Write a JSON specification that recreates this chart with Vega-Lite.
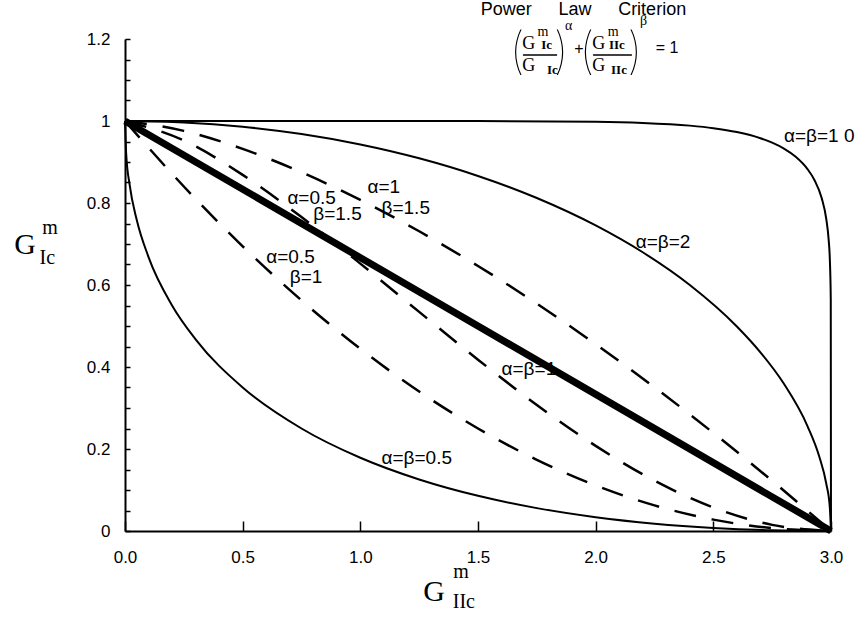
{
  "$schema": "https://vega.github.io/schema/vega-lite/v6.json",
  "autosize": {"type": "none"},
  "width": 706,
  "height": 492,
  "padding": {"left": 125, "top": 39, "right": 31, "bottom": 93},
  "background": "white",
  "config": {"view": {"stroke": null}},
  "datasets": {
    "curves": [
      {"curve": "a10", "x": 0, "y": 1},
      {"curve": "a10", "x": 0.5, "y": 1},
      {"curve": "a10", "x": 1, "y": 1},
      {"curve": "a10", "x": 1.5, "y": 0.9999},
      {"curve": "a10", "x": 2, "y": 0.99825},
      {"curve": "a10", "x": 2.2, "y": 0.99541},
      {"curve": "a10", "x": 2.4, "y": 0.98871},
      {"curve": "a10", "x": 2.5, "y": 0.98254},
      {"curve": "a10", "x": 2.6, "y": 0.97305},
      {"curve": "a10", "x": 2.7, "y": 0.95803},
      {"curve": "a10", "x": 2.75, "y": 0.94716},
      {"curve": "a10", "x": 2.8, "y": 0.93273},
      {"curve": "a10", "x": 2.85, "y": 0.91273},
      {"curve": "a10", "x": 2.9, "y": 0.88281},
      {"curve": "a10", "x": 2.93, "y": 0.85563},
      {"curve": "a10", "x": 2.96, "y": 0.81262},
      {"curve": "a10", "x": 2.98, "y": 0.7605},
      {"curve": "a10", "x": 2.99, "y": 0.71063},
      {"curve": "a10", "x": 2.995, "y": 0.66354},
      {"curve": "a10", "x": 2.999, "y": 0.56522},
      {"curve": "a10", "x": 3, "y": 0},
      {"curve": "a2", "x": 0, "y": 1},
      {"curve": "a2", "x": 0.25, "y": 0.99652},
      {"curve": "a2", "x": 0.5, "y": 0.98601},
      {"curve": "a2", "x": 0.75, "y": 0.96825},
      {"curve": "a2", "x": 1, "y": 0.94281},
      {"curve": "a2", "x": 1.25, "y": 0.90906},
      {"curve": "a2", "x": 1.5, "y": 0.86603},
      {"curve": "a2", "x": 1.75, "y": 0.81223},
      {"curve": "a2", "x": 2, "y": 0.74536},
      {"curve": "a2", "x": 2.2, "y": 0.67987},
      {"curve": "a2", "x": 2.4, "y": 0.6},
      {"curve": "a2", "x": 2.6, "y": 0.49889},
      {"curve": "a2", "x": 2.7, "y": 0.43589},
      {"curve": "a2", "x": 2.8, "y": 0.35901},
      {"curve": "a2", "x": 2.9, "y": 0.25604},
      {"curve": "a2", "x": 2.95, "y": 0.18182},
      {"curve": "a2", "x": 2.98, "y": 0.11528},
      {"curve": "a2", "x": 2.995, "y": 0.05771},
      {"curve": "a2", "x": 3, "y": 0},
      {"curve": "a1", "x": 0, "y": 1},
      {"curve": "a1", "x": 3, "y": 0},
      {"curve": "a05", "x": 0, "y": 1},
      {"curve": "a05", "x": 0.005, "y": 0.92002},
      {"curve": "a05", "x": 0.02, "y": 0.84337},
      {"curve": "a05", "x": 0.05, "y": 0.75847},
      {"curve": "a05", "x": 0.1, "y": 0.66819},
      {"curve": "a05", "x": 0.2, "y": 0.55027},
      {"curve": "a05", "x": 0.3, "y": 0.46754},
      {"curve": "a05", "x": 0.5, "y": 0.35017},
      {"curve": "a05", "x": 0.75, "y": 0.25},
      {"curve": "a05", "x": 1, "y": 0.17863},
      {"curve": "a05", "x": 1.25, "y": 0.12567},
      {"curve": "a05", "x": 1.5, "y": 0.08579},
      {"curve": "a05", "x": 1.75, "y": 0.05581},
      {"curve": "a05", "x": 2, "y": 0.03367},
      {"curve": "a05", "x": 2.25, "y": 0.01795},
      {"curve": "a05", "x": 2.5, "y": 0.00759},
      {"curve": "a05", "x": 2.75, "y": 0.00181},
      {"curve": "a05", "x": 3, "y": 0},
      {"curve": "a1b15", "x": 0, "y": 1},
      {"curve": "a1b15", "x": 0.25, "y": 0.97594},
      {"curve": "a1b15", "x": 0.5, "y": 0.93196},
      {"curve": "a1b15", "x": 0.75, "y": 0.875},
      {"curve": "a1b15", "x": 1, "y": 0.80755},
      {"curve": "a1b15", "x": 1.25, "y": 0.73104},
      {"curve": "a1b15", "x": 1.5, "y": 0.64645},
      {"curve": "a1b15", "x": 1.75, "y": 0.55447},
      {"curve": "a1b15", "x": 2, "y": 0.45567},
      {"curve": "a1b15", "x": 2.25, "y": 0.35048},
      {"curve": "a1b15", "x": 2.5, "y": 0.23927},
      {"curve": "a1b15", "x": 2.75, "y": 0.12236},
      {"curve": "a1b15", "x": 3, "y": 0},
      {"curve": "a05b15", "x": 0, "y": 1},
      {"curve": "a05b15", "x": 0.25, "y": 0.95246},
      {"curve": "a05b15", "x": 0.5, "y": 0.86855},
      {"curve": "a05b15", "x": 0.75, "y": 0.76563},
      {"curve": "a05b15", "x": 1, "y": 0.65214},
      {"curve": "a05b15", "x": 1.25, "y": 0.53442},
      {"curve": "a05b15", "x": 1.5, "y": 0.4179},
      {"curve": "a05b15", "x": 1.75, "y": 0.30744},
      {"curve": "a05b15", "x": 2, "y": 0.20764},
      {"curve": "a05b15", "x": 2.25, "y": 0.12284},
      {"curve": "a05b15", "x": 2.5, "y": 0.05725},
      {"curve": "a05b15", "x": 2.75, "y": 0.01497},
      {"curve": "a05b15", "x": 3, "y": 0},
      {"curve": "a05b1", "x": 0, "y": 1},
      {"curve": "a05b1", "x": 0.25, "y": 0.84028},
      {"curve": "a05b1", "x": 0.5, "y": 0.69444},
      {"curve": "a05b1", "x": 0.75, "y": 0.5625},
      {"curve": "a05b1", "x": 1, "y": 0.44444},
      {"curve": "a05b1", "x": 1.25, "y": 0.34028},
      {"curve": "a05b1", "x": 1.5, "y": 0.25},
      {"curve": "a05b1", "x": 1.75, "y": 0.17361},
      {"curve": "a05b1", "x": 2, "y": 0.11111},
      {"curve": "a05b1", "x": 2.25, "y": 0.0625},
      {"curve": "a05b1", "x": 2.5, "y": 0.02778},
      {"curve": "a05b1", "x": 2.75, "y": 0.00694},
      {"curve": "a05b1", "x": 3, "y": 0}
    ],
    "labels": [
      {"group": "lab", "x": 2.8, "y": 0.963, "text": "α=β=1 0"},
      {"group": "lab", "x": 2.17, "y": 0.705, "text": "α=β=2"},
      {"group": "lab", "x": 1.03, "y": 0.84, "text": "α=1"},
      {"group": "lab", "x": 1.09, "y": 0.788, "text": "β=1.5"},
      {"group": "lab", "x": 0.69, "y": 0.812, "text": "α=0.5"},
      {"group": "lab", "x": 0.8, "y": 0.772, "text": "β=1.5"},
      {"group": "lab", "x": 0.6, "y": 0.668, "text": "α=0.5"},
      {"group": "lab", "x": 0.7, "y": 0.62, "text": "β=1"},
      {"group": "lab", "x": 1.6, "y": 0.395, "text": "α=β=1"},
      {"group": "lab", "x": 1.09, "y": 0.178, "text": "α=β=0.5"},
      {"group": "title", "x": 1.62, "y": 1.271, "text": "Power"},
      {"group": "title", "x": 1.912, "y": 1.271, "text": "Law"},
      {"group": "title", "x": 2.24, "y": 1.271, "text": "Criterion"},
      {"group": "paren", "x": 1.666, "y": 1.166, "text": "("},
      {"group": "paren", "x": 1.853, "y": 1.166, "text": ")"},
      {"group": "paren", "x": 1.963, "y": 1.166, "text": "("},
      {"group": "paren", "x": 2.167, "y": 1.166, "text": ")"},
      {"group": "fG", "x": 1.716, "y": 1.189, "text": "G"},
      {"group": "fG", "x": 1.716, "y": 1.133, "text": "G"},
      {"group": "fG", "x": 2.013, "y": 1.189, "text": "G"},
      {"group": "fG", "x": 2.013, "y": 1.133, "text": "G"},
      {"group": "fsup", "x": 1.776, "y": 1.218, "text": "m"},
      {"group": "fsup", "x": 2.074, "y": 1.218, "text": "m"},
      {"group": "fsup", "x": 1.885, "y": 1.232, "text": "α"},
      {"group": "fsup", "x": 2.203, "y": 1.243, "text": "β"},
      {"group": "fsub", "x": 1.792, "y": 1.185, "text": "Ic"},
      {"group": "fsub", "x": 1.816, "y": 1.124, "text": "Ic"},
      {"group": "fsub", "x": 2.09, "y": 1.185, "text": "IIc"},
      {"group": "fsub", "x": 2.099, "y": 1.124, "text": "IIc"},
      {"group": "fop", "x": 1.929, "y": 1.176, "text": "+"},
      {"group": "fop", "x": 2.303, "y": 1.179, "text": "= 1"},
      {"group": "tG", "x": -0.425, "y": 0.698, "text": "G"},
      {"group": "tG", "x": 1.313, "y": -0.149, "text": "G"},
      {"group": "tsup", "x": -0.319, "y": 0.739, "text": "m"},
      {"group": "tsup", "x": 1.428, "y": -0.1, "text": "m"},
      {"group": "tsub", "x": -0.33, "y": 0.666, "text": "Ic"},
      {"group": "tsub", "x": 1.44, "y": -0.173, "text": "IIc"}
    ],
    "bars": [
      {"x": 1.691, "x2": 1.836, "y": 1.161},
      {"x": 1.989, "x2": 2.154, "y": 1.161}
    ]
  },
  "encoding": {
    "x": {
      "field": "x", "type": "quantitative",
      "scale": {"domain": [0, 3], "nice": false, "zero": false},
      "axis": {
        "title": null, "grid": false,
        "values": [0, 0.5, 1, 1.5, 2, 2.5, 3], "format": ".1f",
        "tickSize": -10, "tickWidth": 1.5, "tickColor": "black",
        "domainColor": "black", "domainWidth": 2,
        "labelFont": "Liberation Sans", "labelFontSize": 17, "labelColor": "black",
        "labelPadding": 28, "labelFlush": false, "labelOverlap": false
      }
    },
    "y": {
      "field": "y", "type": "quantitative",
      "scale": {"domain": [0, 1.2], "nice": false, "zero": false},
      "axis": {
        "title": null, "grid": false,
        "values": [0, 0.05, 0.1, 0.15, 0.2, 0.25, 0.3, 0.35, 0.4, 0.45, 0.5, 0.55, 0.6, 0.65, 0.7, 0.75, 0.8, 0.85, 0.9, 0.95, 1, 1.05, 1.1, 1.15, 1.2],
        "labelExpr": "abs(datum.value * 5 - round(datum.value * 5)) < 0.001 ? format(datum.value, '~g') : ''",
        "tickSize": -5, "tickWidth": 1.5, "tickColor": "black",
        "domainColor": "black", "domainWidth": 2,
        "labelFont": "Liberation Sans", "labelFontSize": 17, "labelColor": "black",
        "labelPadding": 20, "labelFlush": false, "labelOverlap": false
      }
    }
  },
  "layer": [
    {
      "data": {"name": "curves"},
      "transform": [{"filter": {"field": "curve", "oneOf": ["a10", "a2", "a05"]}}],
      "mark": {"type": "line", "interpolate": "monotone", "color": "black", "strokeWidth": 2},
      "encoding": {"detail": {"field": "curve"}}
    },
    {
      "data": {"name": "curves"},
      "transform": [{"filter": {"field": "curve", "equal": "a1"}}],
      "mark": {"type": "line", "color": "black", "strokeWidth": 7},
      "encoding": {"detail": {"field": "curve"}}
    },
    {
      "data": {"name": "curves"},
      "transform": [{"filter": {"field": "curve", "oneOf": ["a1b15", "a05b15", "a05b1"]}}],
      "mark": {"type": "line", "interpolate": "monotone", "color": "black", "strokeWidth": 2.5, "strokeDash": [22, 16]},
      "encoding": {"detail": {"field": "curve"}}
    },
    {
      "data": {"name": "bars"},
      "mark": {"type": "rule", "color": "black", "strokeWidth": 1.5},
      "encoding": {"x2": {"field": "x2"}}
    },
    {
      "data": {"name": "labels"},
      "transform": [{"filter": {"field": "group", "equal": "lab"}}],
      "mark": {"type": "text", "align": "left", "baseline": "middle", "font": "Liberation Sans", "fontSize": 19, "color": "black"},
      "encoding": {"text": {"field": "text"}}
    },
    {
      "data": {"name": "labels"},
      "transform": [{"filter": {"field": "group", "equal": "title"}}],
      "mark": {"type": "text", "align": "center", "baseline": "middle", "font": "Liberation Sans", "fontSize": 18, "color": "black"},
      "encoding": {"text": {"field": "text"}}
    },
    {
      "data": {"name": "labels"},
      "transform": [{"filter": {"field": "group", "equal": "paren"}}],
      "mark": {"type": "text", "align": "center", "baseline": "middle", "font": "Inter", "fontWeight": 100, "fontSize": 50, "color": "black"},
      "encoding": {"text": {"field": "text"}}
    },
    {
      "data": {"name": "labels"},
      "transform": [{"filter": {"field": "group", "equal": "fG"}}],
      "mark": {"type": "text", "align": "center", "baseline": "middle", "font": "Liberation Serif", "fontSize": 18, "color": "black"},
      "encoding": {"text": {"field": "text"}}
    },
    {
      "data": {"name": "labels"},
      "transform": [{"filter": {"field": "group", "equal": "fsup"}}],
      "mark": {"type": "text", "align": "center", "baseline": "middle", "font": "Liberation Serif", "fontSize": 14, "color": "black"},
      "encoding": {"text": {"field": "text"}}
    },
    {
      "data": {"name": "labels"},
      "transform": [{"filter": {"field": "group", "equal": "fsub"}}],
      "mark": {"type": "text", "align": "center", "baseline": "middle", "font": "Liberation Serif", "fontSize": 13, "fontWeight": "bold", "color": "black"},
      "encoding": {"text": {"field": "text"}}
    },
    {
      "data": {"name": "labels"},
      "transform": [{"filter": {"field": "group", "equal": "fop"}}],
      "mark": {"type": "text", "align": "center", "baseline": "middle", "font": "Liberation Sans", "fontSize": 16, "color": "black"},
      "encoding": {"text": {"field": "text"}}
    },
    {
      "data": {"name": "labels"},
      "transform": [{"filter": {"field": "group", "equal": "tG"}}],
      "mark": {"type": "text", "align": "center", "baseline": "middle", "font": "Liberation Serif", "fontSize": 30, "color": "black"},
      "encoding": {"text": {"field": "text"}}
    },
    {
      "data": {"name": "labels"},
      "transform": [{"filter": {"field": "group", "equal": "tsup"}}],
      "mark": {"type": "text", "align": "center", "baseline": "middle", "font": "Liberation Serif", "fontSize": 20, "color": "black"},
      "encoding": {"text": {"field": "text"}}
    },
    {
      "data": {"name": "labels"},
      "transform": [{"filter": {"field": "group", "equal": "tsub"}}],
      "mark": {"type": "text", "align": "center", "baseline": "middle", "font": "Liberation Serif", "fontSize": 20, "color": "black"},
      "encoding": {"text": {"field": "text"}}
    }
  ]
}
